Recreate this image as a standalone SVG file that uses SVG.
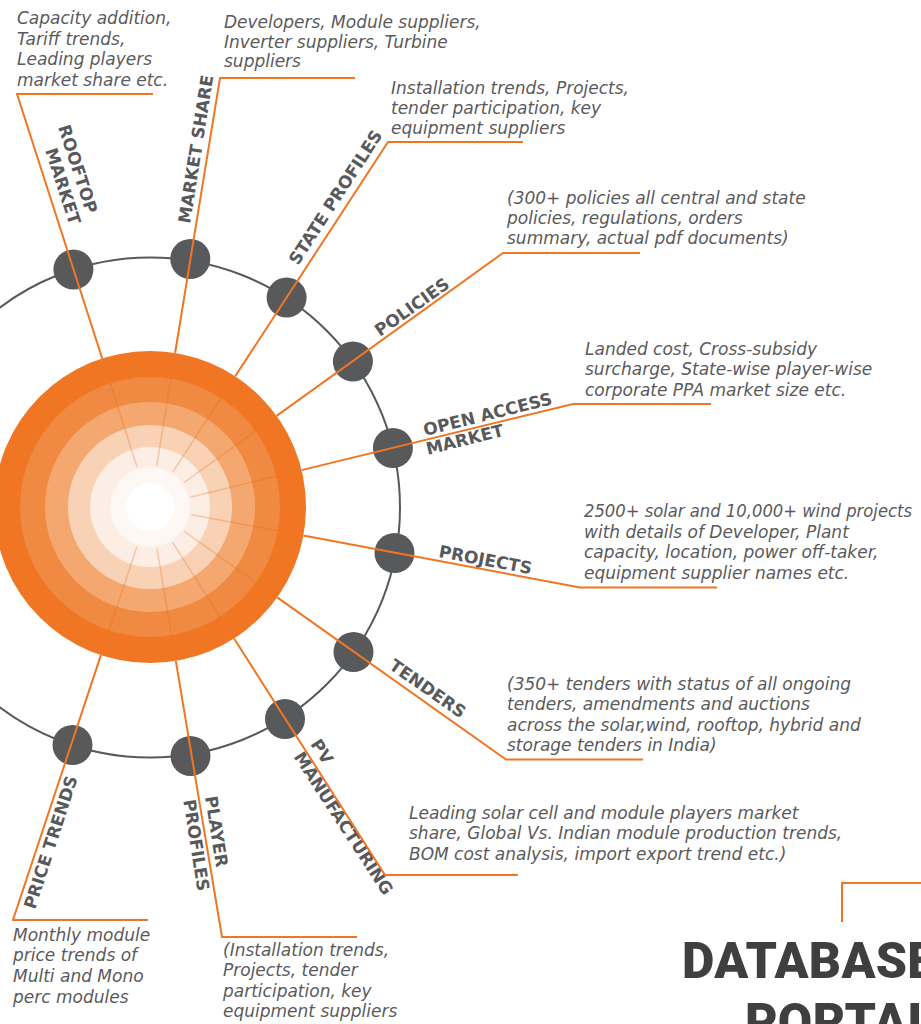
<svg xmlns="http://www.w3.org/2000/svg" width="921" height="1024" viewBox="0 0 921 1024">
<style>
.conn{fill:none;stroke:#F07623;stroke-width:2;stroke-linejoin:miter}
.inner{stroke:#E56A17;stroke-opacity:0.3;stroke-width:1.5;fill:none}
.node{fill:#58595B}
.ring{fill:none;stroke:#58595B;stroke-width:2}
.lbl{font-family:"DejaVu Sans",sans-serif;font-weight:bold;font-size:17px;fill:#58595B}
.desc{font-family:"DejaVu Sans",sans-serif;font-style:italic;font-size:17px;fill:#5A5A5C}
.title{font-family:Roboto,"Liberation Sans",sans-serif;font-weight:900;font-size:50px;letter-spacing:0.3px;fill:#3F3F3F}
</style>
<rect width="921" height="1024" fill="#FFFFFF"/>
<g id="hub">
<circle cx="150" cy="507" r="156" fill="#F07623"/>
<circle cx="150" cy="507" r="130" fill="#F08941"/>
<circle cx="150" cy="507" r="105" fill="#F4A870"/>
<circle cx="150" cy="507" r="82" fill="#F9D2B6"/>
<circle cx="150" cy="507" r="60" fill="#FCEEE5"/>
<circle cx="150" cy="507" r="40" fill="#FEF8F4"/>
<circle cx="150" cy="507" r="24" fill="#FFFFFF"/>
<g class="inner">
<line x1="137.1" y1="467" x2="110.2" y2="383.3"/>
<line x1="156.8" y1="465.6" x2="170.9" y2="378.7"/>
<line x1="172.9" y1="471.8" x2="221" y2="398.1"/>
<line x1="184.1" y1="482.5" x2="255.5" y2="431.1"/>
<line x1="190.8" y1="497.1" x2="276.3" y2="476.2"/>
<line x1="191.3" y1="514.7" x2="277.8" y2="530.8"/>
<line x1="184.2" y1="531.3" x2="256" y2="582.3"/>
<line x1="172.6" y1="542.4" x2="220" y2="616.6"/>
<line x1="156.9" y1="548.4" x2="171.5" y2="635.2"/>
<line x1="136.8" y1="546.9" x2="109.1" y2="630.4"/>
</g>
</g>
<circle class="ring" cx="150" cy="507.5" r="250"/>

<g id="rooftop-market">
<circle class="node" cx="73.4" cy="269.5" r="20"/>
<text class="lbl" transform="translate(58 127) rotate(72)"><tspan x="0" y="0">ROOFTOP</tspan><tspan x="18" y="19.5">MARKET</tspan></text>
<text class="desc"><tspan x="17" y="24">Capacity addition,</tspan><tspan x="17" y="44.5">Tariff trends,</tspan><tspan x="17" y="65">Leading players</tspan><tspan x="17" y="85.5">market share etc.</tspan></text>
</g>
<g id="market-share">
<circle class="node" cx="190.3" cy="259" r="20"/>
<text class="lbl" transform="translate(190 224) rotate(-81)">MARKET SHARE</text>
<text class="desc"><tspan x="224" y="27.5">Developers, Module suppliers,</tspan><tspan x="224" y="47.5">Inverter suppliers, Turbine</tspan><tspan x="224" y="67">suppliers</tspan></text>
</g>
<g id="state-profiles">
<circle class="node" cx="286.6" cy="297.6" r="20"/>
<text class="lbl" transform="translate(298 266) rotate(-57)">STATE PROFILES</text>
<text class="desc"><tspan x="391" y="93.5">Installation trends, Projects,</tspan><tspan x="391" y="113.5">tender participation, key</tspan><tspan x="391" y="133.5">equipment suppliers</tspan></text>
</g>
<g id="policies">
<circle class="node" cx="352.9" cy="361.5" r="20"/>
<text class="lbl" transform="translate(380 337) rotate(-35.5)">POLICIES</text>
<text class="desc"><tspan x="507" y="203.5">(300+ policies all central and state</tspan><tspan x="507" y="223.5">policies, regulations, orders</tspan><tspan x="507" y="244">summary, actual pdf documents)</tspan></text>
</g>
<g id="open-access-market">
<circle class="node" cx="392.9" cy="448" r="20"/>
<text class="lbl" transform="translate(425 436) rotate(-14)"><tspan x="0" y="0">OPEN ACCESS</tspan><tspan x="-2" y="19">MARKET</tspan></text>
<text class="desc"><tspan x="585" y="355">Landed cost, Cross-subsidy</tspan><tspan x="585" y="375">surcharge, State-wise player-wise</tspan><tspan x="585" y="395.5">corporate PPA market size etc.</tspan></text>
</g>
<g id="projects">
<circle class="node" cx="394.5" cy="553" r="20"/>
<text class="lbl" transform="translate(438 557) rotate(10.5)">PROJECTS</text>
<text class="desc"><tspan x="584" y="517" textLength="328" lengthAdjust="spacingAndGlyphs">2500+ solar and 10,000+ wind projects</tspan><tspan x="584" y="537.5">with details of Developer, Plant</tspan><tspan x="584" y="558">capacity, location, power off-taker,</tspan><tspan x="584" y="578.5">equipment supplier names etc.</tspan></text>
</g>
<g id="tenders">
<circle class="node" cx="353.5" cy="652" r="20"/>
<text class="lbl" transform="translate(388 668) rotate(35)">TENDERS</text>
<text class="desc"><tspan x="507" y="689.5">(350+ tenders with status of all ongoing</tspan><tspan x="507" y="710">tenders, amendments and auctions</tspan><tspan x="507" y="730.5">across the solar,wind, rooftop, hybrid and</tspan><tspan x="507" y="751">storage tenders in India)</tspan></text>
</g>
<g id="pv-manufacturing">
<circle class="node" cx="285" cy="719" r="20"/>
<text class="lbl" transform="translate(310 744) rotate(57)"><tspan x="0" y="0">PV</tspan><tspan x="1.5" y="21">MANUFACTURING</tspan></text>
<text class="desc"><tspan x="409" y="818.5">Leading solar cell and module players market</tspan><tspan x="409" y="839">share, Global Vs. Indian module production trends,</tspan><tspan x="409" y="859.5">BOM cost analysis, import export trend etc.)</tspan></text>
</g>
<g id="player-profiles">
<circle class="node" cx="190.5" cy="756" r="20"/>
<text class="lbl" transform="translate(205 797) rotate(81)"><tspan x="0" y="0">PLAYER</tspan><tspan x="0" y="22">PROFILES</tspan></text>
<text class="desc"><tspan x="223" y="955.5">(Installation trends,</tspan><tspan x="223" y="976">Projects, tender</tspan><tspan x="223" y="996.5">participation, key</tspan><tspan x="223" y="1017">equipment suppliers</tspan></text>
</g>
<g id="price-trends">
<circle class="node" cx="72.5" cy="745" r="20"/>
<text class="lbl" transform="translate(35 910) rotate(-72)">PRICE TRENDS</text>
<text class="desc"><tspan x="13" y="940.5">Monthly module</tspan><tspan x="13" y="961">price trends of</tspan><tspan x="13" y="981.5">Multi and Mono</tspan><tspan x="13" y="1002.5">perc modules</tspan></text>
</g>
<g id="database-portal">
<text class="title" x="682" y="978">DATABASE</text>
<text class="title" x="745" y="1039">PORTAL</text>
</g>

<g id="connectors" class="conn">
<polyline points="102.2,358.5 17,94 153,94"/>
<polyline points="175.1,353 220,78 355,78"/>
<polyline points="235.2,376.3 388,142 523,142"/>
<polyline points="276.6,415.9 503,253 640,253"/>
<polyline points="301.6,470.1 573,404 711,404"/>
<polyline points="303.4,535.5 580,587.5 717,587.5"/>
<polyline points="277.2,597.4 506,759.5 643,759.5"/>
<polyline points="234,638.5 385,875 518,875"/>
<polyline points="175.8,660.9 222,937 357,937"/>
<polyline points="100.9,655.1 13,920 148,920"/>
<polyline points="842,922 842,883 921,883"/>
</g>
</svg>
